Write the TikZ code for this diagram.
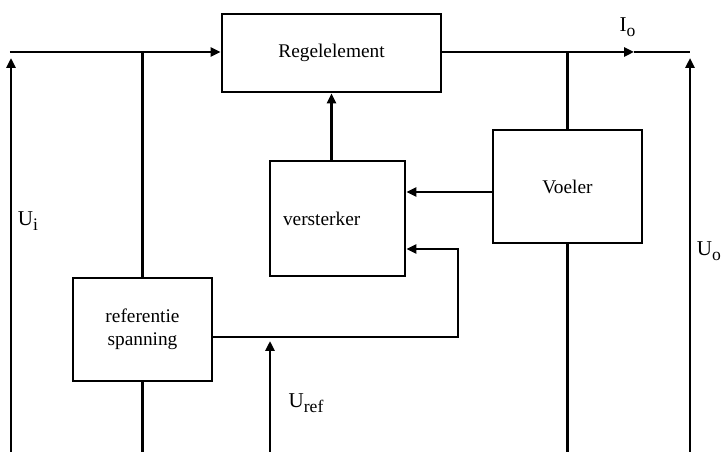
\documentclass[tikz,border=0pt]{standalone}
\usepackage{fontspec}
\setmainfont{Liberation Serif}
\usetikzlibrary{arrows.meta}
\newcommand{\grootheid}[2]{#1\raisebox{-0.5ex}{\fontsize{10}{12}\selectfont #2}}

\begin{document}
\begin{tikzpicture}[
		blok/.style={draw, line width=1.6pt, font=\fontsize{11}{13}\selectfont},
		pijl/.style={line width=1.6pt, -{Triangle[length=2mm,width=1.8mm]}},
		lijn/.style={line width=1.6pt},
		grootte/.style={font=\fontsize{12}{14}\selectfont}
	]
			%%%%% START %%%%%
			\useasboundingbox (0, 0) rectangle (14.46, 9.04);
			
			\node[blok, minimum width=4.38cm, minimum height=1.56cm] (regel) at (6.63, 7.98) {Regelelement};
			\node[blok, minimum width=2.98cm, minimum height=2.26cm] (voeler) at (11.35, 5.31) {Voeler};
			\node[blok, text width=2.18cm, inner xsep=0.26cm, align=left, minimum height=2.30cm] (versterker) at (6.75, 4.67) {versterker};
			\node[blok, minimum width=2.78cm, minimum height=2.06cm, align=center] (referentie) at (2.85, 2.45) {referentie\\spanning};
			
			% ingang
			\coordinate (ui onder) at (0.22, 0);
			\coordinate (ui boven) at (0.22, 7.88);
			\coordinate (ingang) at (0.20, 8.00);
			\draw[pijl] (ui onder) -- (ui boven);
			\draw[pijl] (ingang) -- (ingang -| regel.west);
			\draw[lijn] (referentie.north) -- (referentie.north |- ingang);
			\draw[lijn] (referentie.south) -- (referentie.south |- ui onder);
			
			% uitgang
			\coordinate (io) at (12.68, 8.00);
			\coordinate (uitgang) at (13.80, 8.00);
			\coordinate (uo onder) at (13.80, 0);
			\coordinate (uo boven) at (13.80, 7.88);
			\draw[pijl] (regel.east |- io) -- (io);
			\draw[lijn] (io) -- (uitgang);
			\draw[pijl] (uo onder) -- (uo boven);
			\draw[lijn] (voeler.north) -- (voeler.north |- uitgang);
			\draw[lijn] (voeler.south) -- (voeler.south |- uo onder);
			
			% terugkoppeling
			\draw[pijl] (regel.south |- versterker.north) -- (regel.south);
			\draw[pijl] ([yshift=-0.11cm]voeler.west) -- ([yshift=-0.11cm]voeler.west -| versterker.east);
			\coordinate (hoek boven) at (9.16, 4.06);
			\coordinate (hoek onder) at (9.16, 2.30);
			\draw[pijl] (referentie.east |- hoek onder) -- (hoek onder) -- (hoek boven) -- (hoek boven -| versterker.east);
			
			% referentiespanning
			\coordinate (uref onder) at (5.40, 0);
			\coordinate (uref boven) at (5.40, 2.22);
			\draw[pijl] (uref onder) -- (uref boven);
			
			\node[grootte] (label io) at (12.55, 8.50) {\grootheid{I}{o}};
			\node[grootte] (label ui) at (0.56, 4.62) {\grootheid{U}{i}};
			\node[grootte, anchor=east, inner xsep=1pt] (label uo) at (14.46, 4.02) {\grootheid{U}{o}};
			\node[grootte] (label uref) at (6.12, 0.98) {\grootheid{U}{ref}};
			%%%%% END %%%%%
\end{tikzpicture}
\end{document}
